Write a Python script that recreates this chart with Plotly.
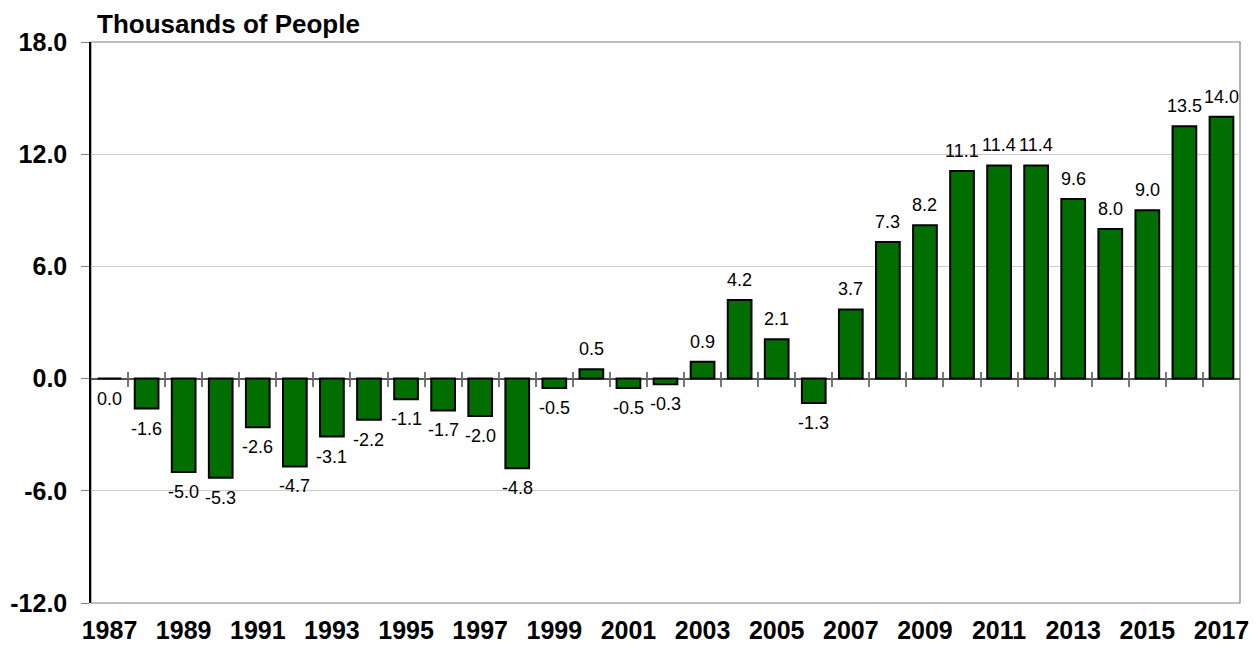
import plotly.graph_objects as go

years = list(range(1987, 2018))
values = [0.0, -1.6, -5.0, -5.3, -2.6, -4.7, -3.1, -2.2, -1.1, -1.7, -2.0, -4.8,
          -0.5, 0.5, -0.5, -0.3, 0.9, 4.2, 2.1, -1.3, 3.7, 7.3, 8.2, 11.1, 11.4,
          11.4, 9.6, 8.0, 9.0, 13.5, 14.0]
year_ticks = list(range(1987, 2018, 2))
y_ticks = [-12, -6, 0, 6, 12, 18]
title_text = "Thousands of People"

fig = go.Figure()
fig.add_trace(go.Bar(
    x=years, y=values,
    marker=dict(color="#006e00", line=dict(color="black", width=2)),
    width=0.64,
    hoverinfo="x+y",
))

# data labels
for yr, v in zip(years, values):
    fig.add_annotation(
        x=yr, y=v, text=f"{v:.1f}", showarrow=False,
        yanchor="bottom" if v > 0 else "top",
        yshift=8 if v > 0 else -8,
        font=dict(family="Liberation Sans, Arial", size=18, color="black"),
    )

boundaries = [y + 0.5 for y in years[:-1]]
for ax in ("x2", "x3"):
    fig.add_trace(go.Scatter(x=[None], y=[None], xaxis=ax, yaxis="y",
                             showlegend=False, hoverinfo="skip"))

xr = [years[0] - 0.5, years[-1] + 0.5]
zero_pos = (0 - y_ticks[0]) / (y_ticks[-1] - y_ticks[0])
W, H = 1260, 652
fig.update_layout(
    width=W, height=H,
    margin=dict(l=83, r=28, t=34, b=57),
    paper_bgcolor="white", plot_bgcolor="white",
    showlegend=False,
    bargap=0.36,
    font=dict(family="Liberation Sans, Arial", color="black"),
    title=dict(text="<b>" + title_text + "</b>", xref="container", yref="container",
               x=89 / W, xanchor="left", y=1 - 16 / H, yanchor="middle",
               font=dict(size=26, color="black")),
    xaxis=dict(range=xr, tickmode="array", tickvals=year_ticks,
               ticktext=[f"<b>{t}</b>" for t in year_ticks],
               tickfont=dict(size=25), showgrid=False, zeroline=False,
               showline=False, ticks="", ticklabelstandoff=10, automargin=False),
    xaxis2=dict(overlaying="x", anchor="free", position=zero_pos, side="bottom",
                range=xr, tickmode="array", tickvals=boundaries, ticks="outside",
                ticklen=7, tickcolor="#777777", tickwidth=1.5, showticklabels=False,
                showgrid=False, zeroline=False, showline=False, automargin=False),
    xaxis3=dict(overlaying="x", anchor="free", position=zero_pos, side="top",
                range=xr, tickmode="array", tickvals=boundaries, ticks="outside",
                ticklen=7, tickcolor="#777777", tickwidth=1.5, showticklabels=False,
                showgrid=False, zeroline=False, showline=False, automargin=False),
    yaxis=dict(range=[-12, 18], tickmode="array", tickvals=y_ticks,
               ticktext=[f"<b>{t:.1f}</b>" for t in y_ticks],
               tickfont=dict(size=25), showgrid=True, gridcolor="#cccccc",
               gridwidth=1, zeroline=True, zerolinecolor="#555555",
               zerolinewidth=1.5, showline=True, linecolor="black", linewidth=1.5,
               ticks="outside", ticklen=8, tickcolor="#808080",
               ticklabelstandoff=9, automargin=False),
    shapes=[dict(type="rect", xref="paper", yref="paper", x0=0, x1=1, y0=0, y1=1,
                 line=dict(color="#808080", width=1.2), layer="below")],
)

fig.write_html("out.html")
